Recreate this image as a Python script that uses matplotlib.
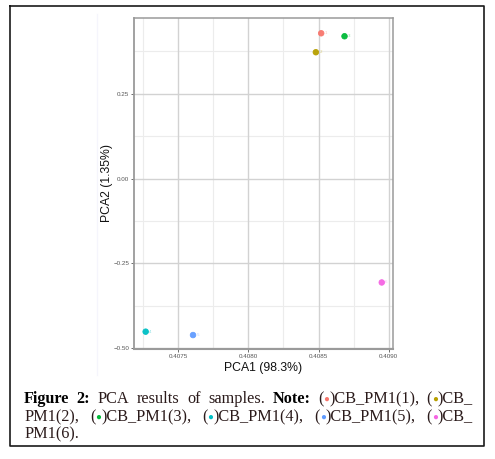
import numpy as np
import matplotlib
matplotlib.use("Agg")
import matplotlib.pyplot as plt
from matplotlib.lines import Line2D

# sample scores
samples = ["1", "2", "3", "4", "5", "6"]
pca1 = [0.408519, 0.408481, 0.408685, 0.407270, 0.407607, 0.408950]
pca2 = [0.4285, 0.3726, 0.4197, -0.4509, -0.4609, -0.3059]
colors = ["#F8766D", "#B79F00", "#00BA38", "#00BFC4", "#619CFF", "#F564E3"]

xticks = [0.4075, 0.4080, 0.4085, 0.4090]
yticks = [0.25, 0.00, -0.25, -0.50]
xminor = [0.40725, 0.40775, 0.40825, 0.40875]
yminor = [0.375, 0.125, -0.125, -0.375]

W, H = 495, 459
fig = plt.figure(figsize=(W / 100, H / 100), dpi=100)

ax = fig.add_axes([134 / W, 1 - 349 / H, (393 - 134) / W, (349 - 18) / H])
ax.set_xlim(0.407187, 0.40903)
ax.set_ylim(-0.502, 0.4735)

for v in xminor:
    ax.axvline(v, color="#ececec", lw=0.8, zorder=0)
for v in yminor:
    ax.axhline(v, color="#ececec", lw=0.8, zorder=0)
for v in xticks:
    ax.axvline(v, color="#d2d2d2", lw=1.0, zorder=0)
for v in yticks:
    ax.axhline(v, color="#d2d2d2", lw=1.0, zorder=0)

ax.scatter(pca1, pca2, c=colors, s=16, zorder=3, linewidths=0.6,
           edgecolors=colors, alpha=0.95)
for x, y, lab, c in zip(pca1, pca2, samples, colors):
    ax.annotate(lab, (x, y), xytext=(2.5, 0), textcoords="offset points",
                fontsize=3, color=c, alpha=0.45, va="center")

ax.set_xticks(xticks)
ax.set_xticklabels(["0.4075", "0.4080", "0.4085", "0.4090"])
ax.set_yticks(yticks)
ax.set_yticklabels(["0.25", "0.00", "\u22120.25", "\u22120.50"])
ax.tick_params(labelsize=4.5, labelcolor="#555555", color="#555555",
               length=2, width=0.6, pad=1.5)
for lab in ax.get_xticklabels() + ax.get_yticklabels():
    lab.set_family("Liberation Sans")
for side in ["top", "right", "bottom", "left"]:
    ax.spines[side].set_color("#9a9a9a")
    ax.spines[side].set_linewidth(1.1)
ax.spines["bottom"].set_linewidth(1.5)
ax.spines["left"].set_linewidth(1.3)

ax.set_xlabel("PCA1 (98.3%)", fontsize=8.8, family="Liberation Sans",
              color="#111111", labelpad=2)
ax.set_ylabel("PCA2 (1.35%)", fontsize=8.8, family="Liberation Sans",
              color="#111111", labelpad=0.5)

# outer frame of the figure page
frame = [(10, 6), (484, 6), (484, 446), (10, 446), (10, 6)]
fig.add_artist(Line2D([p[0] / W for p in frame], [1 - p[1] / H for p in frame],
                      color="#1a1a1a", lw=1.2, transform=fig.transFigure))
fig.add_artist(Line2D([97 / W, 97 / W], [1 - 14 / H, 1 - 375 / H],
                      color="#f5f5fc", lw=1.0, transform=fig.transFigure))

# caption, justified by hand
ink = "#2a1a1a"
fs = 11.7

def ptok(c, rest):
    return [("(", ink, "normal", fs), ("\u25cf", c, "normal", fs * 0.6),
            (")" + rest, ink, "normal", fs)]

def w1(s, c=ink, wt="normal"):
    return [(s, c, wt, fs)]

lines = [
    [w1("Figure", "black", "bold"), w1("2:", "black", "bold"), w1("PCA"),
     w1("results"), w1("of"), w1("samples."), w1("Note:", "black", "bold"),
     ptok(colors[0], "CB_PM1(1),"), ptok(colors[1], "CB_")],
    [w1("PM1(2),"), ptok(colors[2], "CB_PM1(3),"), ptok(colors[3], "CB_PM1(4),"),
     ptok(colors[4], "CB_PM1(5),"), ptok(colors[5], "CB_")],
    [w1("PM1(6).")],
]
baselines = [403, 421, 438]
x0, x1 = 24, 473
renderer = fig.canvas.get_renderer()

for li, (words, base) in enumerate(zip(lines, baselines)):
    arts = []
    widths = []
    for word in words:
        wa = []
        ww = 0
        for s, c, wt, size in word:
            yb = base if size == fs else base - 1.0
            t = fig.text(0, 1 - yb / H, s, fontsize=size, family="Liberation Serif",
                         color=c, weight=wt, va="baseline", ha="left")
            w = t.get_window_extent(renderer).width
            wa.append((t, w))
            ww += w
        arts.append(wa)
        widths.append(ww)
    if li < len(lines) - 1 and len(words) > 1:
        gap = (x1 - x0 - sum(widths)) / (len(words) - 1)
    else:
        gap = 4
    x = x0
    for wa, ww in zip(arts, widths):
        xx = x
        for t, w in wa:
            t.set_x(xx / W)
            xx += w
        x += ww + gap

fig.savefig("out.png", dpi=100)
